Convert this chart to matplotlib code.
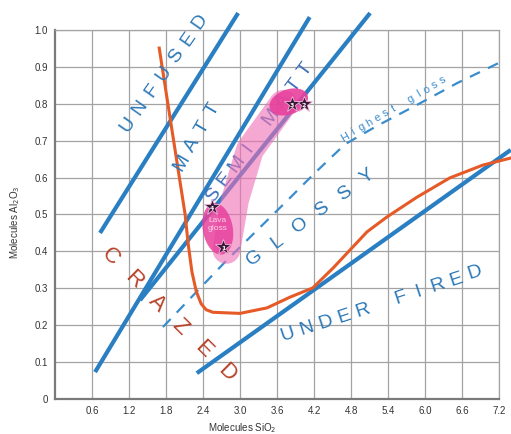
import math
import matplotlib
matplotlib.use("Agg")
import matplotlib.pyplot as plt
from matplotlib.patches import Ellipse
from matplotlib.transforms import ScaledTranslation

# ---------------- data ----------------
x_ticks = [0.6, 1.2, 1.8, 2.4, 3.0, 3.6, 4.2, 4.8, 5.4, 6.0, 6.6, 7.2]
y_ticks = [0, 0.1, 0.2, 0.3, 0.4, 0.5, 0.6, 0.7, 0.8, 0.9, 1.0]
y_tick_labels = ["0", "0.1", "0.2", "0.3", "0.4", "0.5", "0.6", "0.7", "0.8", "0.9", "1.0"]

# boundary lines (end points)
unfused_x = [0.73, 2.97]
unfused_y = [0.45, 1.046]
matt_x = [0.65, 4.13]
matt_y = [0.073, 1.035]
semi_x = [1.38, 5.11]
semi_y = [0.268, 1.046]
under_x = [2.30, 7.39]
under_y = [0.07, 0.675]

# crazing curve
craze_x = [1.69, 2.11, 2.16, 2.22, 2.29, 2.37, 2.45, 2.56, 3.00, 3.44, 3.81, 4.18,
           4.51, 5.06, 5.38, 5.87, 6.40, 6.94, 7.39]
craze_y = [0.951, 0.500, 0.420, 0.345, 0.292, 0.258, 0.242, 0.235, 0.232, 0.247,
           0.276, 0.301, 0.355, 0.453, 0.493, 0.547, 0.599, 0.634, 0.653]

# highest gloss dashed curve
gloss_x = [1.75, 2.79, 3.81, 4.18, 4.70, 5.22, 5.87, 6.52, 7.25]
gloss_y = [0.195, 0.377, 0.545, 0.607, 0.690, 0.740, 0.797, 0.856, 0.915]

# glaze samples
sample_x = [2.73, 4.04, 3.84, 2.55]
sample_y = [0.412, 0.799, 0.799, 0.520]
sample_labels = ["1", "2", "3", "4"]

# highlighted regions
band_x = [2.78, 2.92, 3.16, 3.70]
band_y = [0.404, 0.540, 0.675, 0.800]
lava_center = (2.64, 0.461)
top_center = (3.79, 0.805)

# ---------------- style ----------------
BLUE = "#2a7fc2"
LBLUE = "#2b78b8"
ORANGE = "#e65a28"
RED = "#b8432b"
FONT = "Liberation Sans"

fig = plt.figure(figsize=(5.11, 4.34), dpi=100)
ax = fig.add_axes([55 / 511, 1 - 399 / 434, 444 / 511, 369 / 434])
ax.set_xlim(0, 7.2)
ax.set_ylim(0, 1.0)

ax.set_xticks(x_ticks)
ax.set_xticklabels([f"{v:.1f}" for v in x_ticks], fontfamily=FONT, fontsize=7, color="#333333")
ax.set_yticks(y_ticks)
ax.set_yticklabels(y_tick_labels, fontfamily=FONT, fontsize=7, color="#333333")
ax.tick_params(length=0, pad=5)
ax.grid(True, color="#a3a3a3", lw=0.9, zorder=0)
ax.set_axisbelow(True)
for s in ["top", "right"]:
    ax.spines[s].set_color("#a3a3a3")
    ax.spines[s].set_linewidth(0.9)
for s in ["left", "bottom"]:
    ax.spines[s].set_color("#7a7a7a")
    ax.spines[s].set_linewidth(1.6)

ax.set_xlabel(r"Molecules SiO$_2$", fontfamily=FONT, fontsize=7, color="#333333", va="center")
ax.xaxis.set_label_coords((242 - 55) / 444, -0.0786)
ax.set_ylabel(r"Molecules Al$_2$O$_3$", fontfamily=FONT, fontsize=7, color="#333333", va="center")
ax.yaxis.set_label_coords((15 - 55) / 444, 0.48)

# boundary lines
for xs, ys in [(unfused_x, unfused_y), (matt_x, matt_y), (semi_x, semi_y), (under_x, under_y)]:
    ax.plot(xs, ys, color=BLUE, lw=3.0, solid_capstyle="butt", clip_on=False, zorder=3)

# highest gloss dashed
ax.plot(gloss_x, gloss_y, color="#3a8dcc", lw=1.6, ls=(0, (5, 4)), clip_on=False, zorder=3)

# crazing curve
ax.plot(craze_x, craze_y, color=ORANGE, lw=2.2, clip_on=False, zorder=4,
        solid_joinstyle="round")


def ptrans(center):
    return fig.dpi_scale_trans + ScaledTranslation(center[0], center[1], ax.transData)


# pink band
ax.plot(band_x, band_y, color="#ee6fb5", alpha=0.6, lw=20, solid_capstyle="round",
        solid_joinstyle="round", zorder=5)
# dark ellipses
ax.add_patch(Ellipse((0, 0), 0.30, 0.52, angle=10, transform=ptrans(lava_center),
                     facecolor="#e8409c", edgecolor="none", alpha=0.85, zorder=6))
ax.add_patch(Ellipse((0, 0), 0.40, 0.25, angle=20, transform=ptrans(top_center),
                     facecolor="#e8409c", edgecolor="none", alpha=0.9, zorder=6))
ax.text(lava_center[0], lava_center[1] + 0.012, "Lava\ngloss", fontfamily=FONT, fontsize=6,
        color="#f9d3ea", ha="center", va="center", linespacing=1.1, zorder=7)

# stars
ax.plot(sample_x, sample_y, ls="none", marker="*", ms=12, mfc="#3b1a3a", mec="#f4b4da",
        mew=0.6, zorder=8)
for x, y, lab in zip(sample_x, sample_y, sample_labels):
    ax.text(x, y - 0.003, lab, fontsize=4.5, color="white", ha="center", va="center",
            fontweight="bold", zorder=9)


def spaced(text, p0, p1, **kw):
    d0 = ax.transData.transform(p0)
    d1 = ax.transData.transform(p1)
    ang = math.degrees(math.atan2(d1[1] - d0[1], d1[0] - d0[0]))
    n = len(text)
    for i, ch in enumerate(text):
        if ch == " ":
            continue
        t = i / (n - 1)
        x = p0[0] + (p1[0] - p0[0]) * t
        y = p0[1] + (p1[1] - p0[1]) * t
        ax.text(x, y, ch, rotation=ang, ha="center", va="center", rotation_mode="anchor",
                clip_on=False, fontfamily=FONT, **kw)


spaced("UNFUSED", (1.184, 0.7425), (2.351, 1.0217), fontsize=14, color=LBLUE, zorder=4)
spaced("MATT", (2.059, 0.6396), (2.562, 0.7832), fontsize=14, color=LBLUE, zorder=4)
spaced("SEMI MATT", (2.562, 0.5528), (4.070, 0.8916), fontsize=14, color="#3f6fb8", zorder=4)
spaced("GLOSSY", (3.243, 0.3821), (5.059, 0.6016), fontsize=14, color=LBLUE, zorder=4)
spaced("UNDER FIRED", (3.778, 0.1734), (6.810, 0.3415), fontsize=14, color=LBLUE, zorder=4)
spaced("CRAZED", (0.892, 0.3848), (2.789, 0.0705), fontsize=16, color=RED, zorder=4)
spaced("Highest gloss", (4.702, 0.710), (6.291, 0.8645), fontsize=8, color="#3a8dcc", zorder=4)

fig.savefig("out.png", dpi=100)
